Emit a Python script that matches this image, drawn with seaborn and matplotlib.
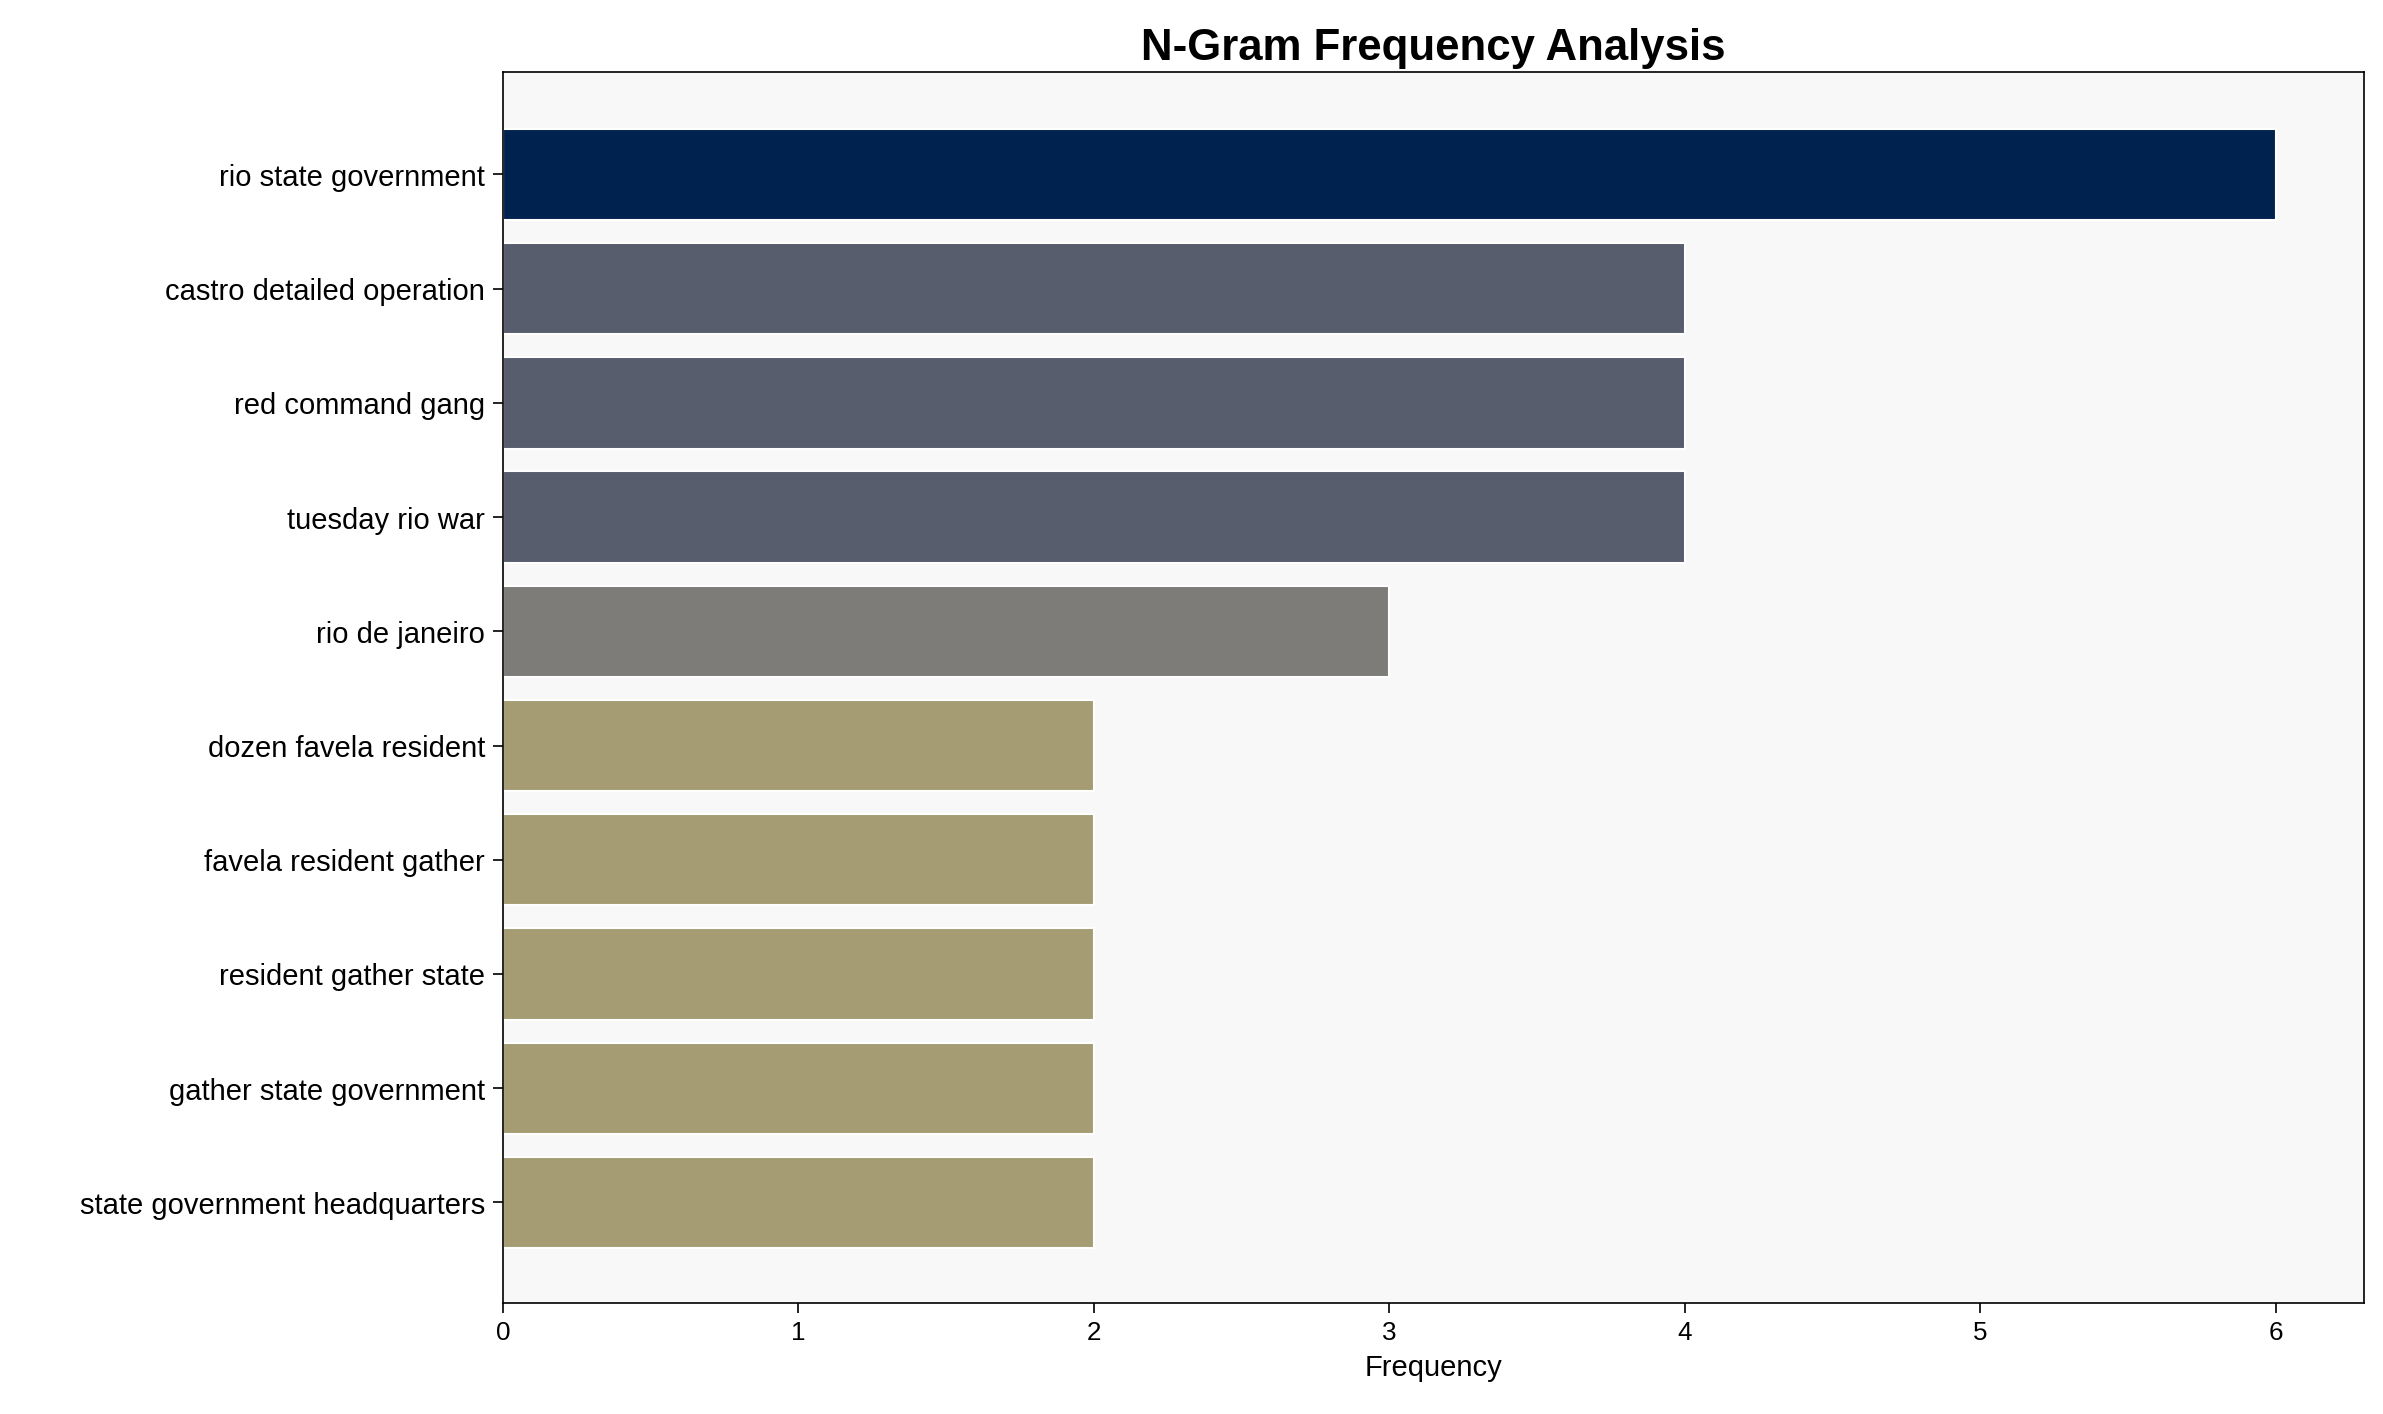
import matplotlib
matplotlib.use("Agg")
import matplotlib.pyplot as plt
import seaborn as sns
import pandas as pd

ngrams = ["rio state government", "castro detailed operation", "red command gang",
          "tuesday rio war", "rio de janeiro", "dozen favela resident",
          "favela resident gather", "resident gather state",
          "gather state government", "state government headquarters"]
freqs = [6, 4, 4, 4, 3, 2, 2, 2, 2, 2]
colors = {6: "#00224e", 4: "#575d6d", 3: "#7d7c78", 2: "#a59c74"}

df = pd.DataFrame({"ngram": ngrams, "freq": freqs})

sns.set_style("white")
plt.rcParams['font.family'] = ['Liberation Sans', 'DejaVu Sans']
plt.rcParams['text.color'] = 'black'
plt.rcParams['axes.labelcolor'] = 'black'
plt.rcParams['xtick.color'] = 'black'
plt.rcParams['ytick.color'] = 'black'

fig, ax = plt.subplots(figsize=(15.89, 9.43), dpi=150)
fig.subplots_adjust(left=0.211, right=0.992, top=0.949, bottom=0.0785)
sns.barplot(data=df, x="freq", y="ngram", hue="ngram", legend=False,
            palette=[colors[v] for v in freqs], width=0.8, saturation=1, ax=ax)
ax.set_facecolor("#f8f8f8")
for s in ax.spines.values():
    s.set_color("black")
ax.set_xlim(0, 6.3)
ax.set_ylim(9.88, -0.9)
ax.set_title("N-Gram Frequency Analysis", fontsize=21, fontweight="bold")
ax.set_xlabel("Frequency", fontsize=14)
ax.set_ylabel("")
ax.tick_params(axis="y", labelsize=14, left=True, length=5)
ax.tick_params(axis="x", labelsize=12.5, bottom=True, length=5)
fig.savefig("out.png")
